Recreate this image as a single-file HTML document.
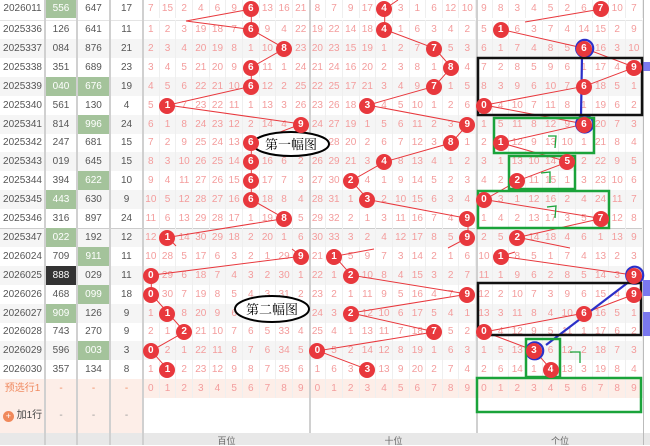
<!DOCTYPE html>
<html><head><meta charset="utf-8"><style>
*{margin:0;padding:0;box-sizing:border-box}
body{width:650px;height:445px;overflow:hidden;background:#fff;font-family:"Liberation Sans","Noto Sans CJK SC",sans-serif;position:relative}
.bg{position:absolute;left:0;width:643px;height:19px}
.L{position:absolute;left:0;width:143px;height:19px;display:flex;font-size:10px;color:#555;line-height:19px;text-align:center}
.L span{height:19px}
.L span:nth-child(1){width:45px}.L span:nth-child(2){width:32px}.L span:nth-child(3){width:33px}.L span:nth-child(4){width:33px}
.gr{background:#a4c39b;color:#fff}.dk{background:#333;color:#fff}
.g{position:absolute;left:143px;width:500px;height:19px;display:flex}
.g span{width:16.667px;text-align:center;font-size:10px;color:#f39c9c;line-height:19px;position:relative;border-right:1px solid #efefef}
.g b{position:absolute;left:50%;top:50%;width:16px;height:16px;margin:-8px 0 0 -8px;border-radius:50%;background:#e8383d;color:#fff;font-weight:bold;font-size:10px;line-height:16px;z-index:2;text-align:center}
.vl{position:absolute;top:0;width:2px;height:445px;background:#d0d0d0}
svg{position:absolute;left:0;top:0;z-index:1}
</style></head><body>
<div class="bg" style="top:39px;background:#f5f5f5"></div>
<div class="bg" style="top:77px;background:#f5f5f5"></div>
<div class="bg" style="top:115px;background:#f5f5f5"></div>
<div class="bg" style="top:152px;background:#f5f5f5"></div>
<div class="bg" style="top:190px;background:#f5f5f5"></div>
<div class="bg" style="top:228px;background:#f5f5f5"></div>
<div class="bg" style="top:266px;background:#f5f5f5"></div>
<div class="bg" style="top:304px;background:#f5f5f5"></div>
<div class="bg" style="top:341px;background:#f5f5f5"></div>
<div class="bg" style="top:379px;height:19px;background:#fdeee8"></div>
<div class="bg" style="top:398px;height:35px;width:143px;background:#fdeee8"></div>
<div class="bg" style="top:433px;height:12px;width:650px;background:#e8e8e8"></div>
<div style="position:absolute;left:0;top:228px;width:643px;height:1px;background:#ccc"></div>
<div style="position:absolute;left:0;top:20px;width:643px;height:1px;background:#e4e4e4"></div>

<div class="L" style="top:-1px"><span>2026011</span><span class="gr">556</span><span>647</span><span>17</span></div>
<div class="L" style="top:20px"><span>2025336</span><span>126</span><span>641</span><span>11</span></div>
<div class="L" style="top:39px"><span>2025337</span><span>084</span><span>876</span><span>21</span></div>
<div class="L" style="top:58px"><span>2025338</span><span>351</span><span>689</span><span>23</span></div>
<div class="L" style="top:77px"><span>2025339</span><span class="gr">040</span><span class="gr">676</span><span>19</span></div>
<div class="L" style="top:96px"><span>2025340</span><span>561</span><span>130</span><span>4</span></div>
<div class="L" style="top:115px"><span>2025341</span><span>814</span><span class="gr">996</span><span>24</span></div>
<div class="L" style="top:133px"><span>2025342</span><span>247</span><span>681</span><span>15</span></div>
<div class="L" style="top:152px"><span>2025343</span><span>019</span><span>645</span><span>15</span></div>
<div class="L" style="top:171px"><span>2025344</span><span>394</span><span class="gr">622</span><span>10</span></div>
<div class="L" style="top:190px"><span>2025345</span><span class="gr">443</span><span>630</span><span>9</span></div>
<div class="L" style="top:209px"><span>2025346</span><span>316</span><span>897</span><span>24</span></div>
<div class="L" style="top:228px"><span>2025347</span><span class="gr">022</span><span>192</span><span>12</span></div>
<div class="L" style="top:247px"><span>2026024</span><span>709</span><span class="gr">911</span><span>11</span></div>
<div class="L" style="top:266px"><span>2026025</span><span class="dk">888</span><span>029</span><span>11</span></div>
<div class="L" style="top:285px"><span>2026026</span><span>468</span><span class="gr">099</span><span>18</span></div>
<div class="L" style="top:304px"><span>2026027</span><span class="gr">909</span><span>126</span><span>9</span></div>
<div class="L" style="top:322px"><span>2026028</span><span>743</span><span>270</span><span>9</span></div>
<div class="L" style="top:341px"><span>2026029</span><span>596</span><span class="gr">003</span><span>3</span></div>
<div class="L" style="top:360px"><span>2026030</span><span>357</span><span>134</span><span>8</span></div>
<div class="L" style="top:379px;color:#f08a60"><span style="font-size:10px">预选行1</span><span>-</span><span>-</span><span>-</span></div>
<div class="L" style="top:406px;color:#444"><span><i style="display:inline-block;width:11px;height:11px;border-radius:50%;background:#f0885a;color:#fff;font-style:normal;font-size:9px;line-height:11px;vertical-align:-1px">+</i> 加1行</span><span style="color:#999">-</span><span style="color:#999">-</span><span style="color:#999">-</span></div>

<div class="g" style="top:-1px"><span>7</span><span>15</span><span>2</span><span>4</span><span>6</span><span>9</span><span><b>6</b></span><span>13</span><span>16</span><span>21</span><span>8</span><span>7</span><span>9</span><span>17</span><span><b>4</b></span><span>3</span><span>1</span><span>6</span><span>12</span><span>10</span><span>9</span><span>8</span><span>3</span><span>4</span><span>5</span><span>2</span><span>6</span><span><b>7</b></span><span>10</span><span>7</span></div>
<div class="g" style="top:20px"><span>1</span><span>2</span><span>3</span><span>19</span><span>18</span><span>7</span><span><b>6</b></span><span>9</span><span>4</span><span>22</span><span>19</span><span>22</span><span>14</span><span>18</span><span><b>4</b></span><span>1</span><span>6</span><span>3</span><span>4</span><span>2</span><span>5</span><span><b>1</b></span><span>6</span><span>3</span><span>7</span><span>4</span><span>14</span><span>15</span><span>2</span><span>9</span></div>
<div class="g" style="top:39px"><span>2</span><span>3</span><span>4</span><span>20</span><span>19</span><span>8</span><span>1</span><span>10</span><span><b>8</b></span><span>23</span><span>20</span><span>23</span><span>15</span><span>19</span><span>1</span><span>2</span><span>7</span><span><b>7</b></span><span>5</span><span>3</span><span>6</span><span>1</span><span>7</span><span>4</span><span>8</span><span>5</span><span><b>6</b></span><span>16</span><span>3</span><span>10</span></div>
<div class="g" style="top:58px"><span>3</span><span>4</span><span>5</span><span>21</span><span>20</span><span>9</span><span><b>6</b></span><span>11</span><span>1</span><span>24</span><span>21</span><span>24</span><span>16</span><span>20</span><span>2</span><span>3</span><span>8</span><span>1</span><span><b>8</b></span><span>4</span><span>7</span><span>2</span><span>8</span><span>5</span><span>9</span><span>6</span><span>1</span><span>17</span><span>4</span><span><b>9</b></span></div>
<div class="g" style="top:77px"><span>4</span><span>5</span><span>6</span><span>22</span><span>21</span><span>10</span><span><b>6</b></span><span>12</span><span>2</span><span>25</span><span>22</span><span>25</span><span>17</span><span>21</span><span>3</span><span>4</span><span>9</span><span><b>7</b></span><span>1</span><span>5</span><span>8</span><span>3</span><span>9</span><span>6</span><span>10</span><span>7</span><span><b>6</b></span><span>18</span><span>5</span><span>1</span></div>
<div class="g" style="top:96px"><span>5</span><span><b>1</b></span><span>7</span><span>23</span><span>22</span><span>11</span><span>1</span><span>13</span><span>3</span><span>26</span><span>23</span><span>26</span><span>18</span><span><b>3</b></span><span>4</span><span>5</span><span>10</span><span>1</span><span>2</span><span>6</span><span><b>0</b></span><span>4</span><span>10</span><span>7</span><span>11</span><span>8</span><span>1</span><span>19</span><span>6</span><span>2</span></div>
<div class="g" style="top:115px"><span>6</span><span>1</span><span>8</span><span>24</span><span>23</span><span>12</span><span>2</span><span>14</span><span>4</span><span><b>9</b></span><span>24</span><span>27</span><span>19</span><span>1</span><span>5</span><span>6</span><span>11</span><span>2</span><span>3</span><span><b>9</b></span><span>1</span><span>5</span><span>11</span><span>8</span><span>12</span><span>9</span><span><b>6</b></span><span>20</span><span>7</span><span>3</span></div>
<div class="g" style="top:133px"><span>7</span><span>2</span><span>9</span><span>25</span><span>24</span><span>13</span><span><b>6</b></span><span>15</span><span>5</span><span>1</span><span>25</span><span>28</span><span>20</span><span>2</span><span>6</span><span>7</span><span>12</span><span>3</span><span><b>8</b></span><span>1</span><span>2</span><span><b>1</b></span><span>12</span><span>9</span><span>13</span><span>10</span><span>1</span><span>21</span><span>8</span><span>4</span></div>
<div class="g" style="top:152px"><span>8</span><span>3</span><span>10</span><span>26</span><span>25</span><span>14</span><span><b>6</b></span><span>16</span><span>6</span><span>2</span><span>26</span><span>29</span><span>21</span><span>3</span><span><b>4</b></span><span>8</span><span>13</span><span>4</span><span>1</span><span>2</span><span>3</span><span>1</span><span>13</span><span>10</span><span>14</span><span><b>5</b></span><span>2</span><span>22</span><span>9</span><span>5</span></div>
<div class="g" style="top:171px"><span>9</span><span>4</span><span>11</span><span>27</span><span>26</span><span>15</span><span><b>6</b></span><span>17</span><span>7</span><span>3</span><span>27</span><span>30</span><span><b>2</b></span><span>4</span><span>1</span><span>9</span><span>14</span><span>5</span><span>2</span><span>3</span><span>4</span><span>2</span><span><b>2</b></span><span>11</span><span>15</span><span>1</span><span>3</span><span>23</span><span>10</span><span>6</span></div>
<div class="g" style="top:190px"><span>10</span><span>5</span><span>12</span><span>28</span><span>27</span><span>16</span><span><b>6</b></span><span>18</span><span>8</span><span>4</span><span>28</span><span>31</span><span>1</span><span><b>3</b></span><span>2</span><span>10</span><span>15</span><span>6</span><span>3</span><span>4</span><span><b>0</b></span><span>3</span><span>1</span><span>12</span><span>16</span><span>2</span><span>4</span><span>24</span><span>11</span><span>7</span></div>
<div class="g" style="top:209px"><span>11</span><span>6</span><span>13</span><span>29</span><span>28</span><span>17</span><span>1</span><span>19</span><span><b>8</b></span><span>5</span><span>29</span><span>32</span><span>2</span><span>1</span><span>3</span><span>11</span><span>16</span><span>7</span><span>4</span><span><b>9</b></span><span>1</span><span>4</span><span>2</span><span>13</span><span>17</span><span>3</span><span>5</span><span><b>7</b></span><span>12</span><span>8</span></div>
<div class="g" style="top:228px"><span>12</span><span><b>1</b></span><span>14</span><span>30</span><span>29</span><span>18</span><span>2</span><span>20</span><span>1</span><span>6</span><span>30</span><span>33</span><span>3</span><span>2</span><span>4</span><span>12</span><span>17</span><span>8</span><span>5</span><span><b>9</b></span><span>2</span><span>5</span><span><b>2</b></span><span>14</span><span>18</span><span>4</span><span>6</span><span>1</span><span>13</span><span>9</span></div>
<div class="g" style="top:247px"><span>10</span><span>28</span><span>5</span><span>17</span><span>6</span><span>3</span><span>2</span><span>1</span><span>29</span><span><b>9</b></span><span>21</span><span><b>1</b></span><span>5</span><span>9</span><span>7</span><span>3</span><span>14</span><span>2</span><span>1</span><span>6</span><span>10</span><span><b>1</b></span><span>8</span><span>5</span><span>1</span><span>7</span><span>4</span><span>13</span><span>2</span><span>3</span></div>
<div class="g" style="top:266px"><span><b>0</b></span><span>29</span><span>6</span><span>18</span><span>7</span><span>4</span><span>3</span><span>2</span><span>30</span><span>1</span><span>22</span><span>1</span><span><b>2</b></span><span>10</span><span>8</span><span>4</span><span>15</span><span>3</span><span>2</span><span>7</span><span>11</span><span>1</span><span>9</span><span>6</span><span>2</span><span>8</span><span>5</span><span>14</span><span>3</span><span><b>9</b></span></div>
<div class="g" style="top:285px"><span><b>0</b></span><span>30</span><span>7</span><span>19</span><span>8</span><span>5</span><span>4</span><span>3</span><span>31</span><span>2</span><span>23</span><span>2</span><span>1</span><span>11</span><span>9</span><span>5</span><span>16</span><span>4</span><span>7</span><span><b>9</b></span><span>12</span><span>2</span><span>10</span><span>7</span><span>3</span><span>9</span><span>6</span><span>15</span><span>4</span><span><b>9</b></span></div>
<div class="g" style="top:304px"><span>1</span><span><b>1</b></span><span>8</span><span>20</span><span>9</span><span>6</span><span>5</span><span>4</span><span>32</span><span>3</span><span>24</span><span>3</span><span><b>2</b></span><span>12</span><span>10</span><span>6</span><span>17</span><span>5</span><span>4</span><span>1</span><span>13</span><span>3</span><span>11</span><span>8</span><span>4</span><span>10</span><span><b>6</b></span><span>16</span><span>5</span><span>1</span></div>
<div class="g" style="top:322px"><span>2</span><span>1</span><span><b>2</b></span><span>21</span><span>10</span><span>7</span><span>6</span><span>5</span><span>33</span><span>4</span><span>25</span><span>4</span><span>1</span><span>13</span><span>11</span><span>7</span><span>18</span><span><b>7</b></span><span>5</span><span>2</span><span><b>0</b></span><span>4</span><span>12</span><span>9</span><span>5</span><span>11</span><span>1</span><span>17</span><span>6</span><span>2</span></div>
<div class="g" style="top:341px"><span><b>0</b></span><span>2</span><span>1</span><span>22</span><span>11</span><span>8</span><span>7</span><span>6</span><span>34</span><span>5</span><span><b>0</b></span><span>5</span><span>2</span><span>14</span><span>12</span><span>8</span><span>19</span><span>1</span><span>6</span><span>3</span><span>1</span><span>5</span><span>13</span><span><b>3</b></span><span>6</span><span>12</span><span>2</span><span>18</span><span>7</span><span>3</span></div>
<div class="g" style="top:360px"><span>1</span><span><b>1</b></span><span>2</span><span>23</span><span>12</span><span>9</span><span>8</span><span>7</span><span>35</span><span>6</span><span>1</span><span>6</span><span>3</span><span><b>3</b></span><span>13</span><span>9</span><span>20</span><span>2</span><span>7</span><span>4</span><span>2</span><span>6</span><span>14</span><span>1</span><span><b>4</b></span><span>13</span><span>3</span><span>19</span><span>8</span><span>4</span></div>
<div class="g" style="top:379px"><span>0</span><span>1</span><span>2</span><span>3</span><span>4</span><span>5</span><span>6</span><span>7</span><span>8</span><span>9</span><span>0</span><span>1</span><span>2</span><span>3</span><span>4</span><span>5</span><span>6</span><span>7</span><span>8</span><span>9</span><span>0</span><span>1</span><span>2</span><span>3</span><span>4</span><span>5</span><span>6</span><span>7</span><span>8</span><span>9</span></div>

<div class="vl" style="left:44px"></div><div class="vl" style="left:76px"></div><div class="vl" style="left:109px"></div><div class="vl" style="left:142px"></div>
<div class="vl" style="left:309px;height:433px"></div><div class="vl" style="left:476px;height:433px"></div><div class="vl" style="left:643px;width:1px;background:#bbb"></div>
<div style="position:absolute;left:643px;top:62px;width:7px;height:9px;background:#7a78ee"></div>
<div style="position:absolute;left:643px;top:280px;width:7px;height:16px;background:#7a78ee"></div>
<div style="position:absolute;left:643px;top:312px;width:7px;height:24px;background:#7a78ee"></div>

<div style="position:absolute;top:436px;left:143px;width:500px;display:flex;font-size:9px;color:#666;text-align:center;line-height:10px"><span style="width:167px">百位</span><span style="width:167px">十位</span><span style="width:166px">个位</span></div>

<svg width="650" height="445" viewBox="0 0 650 445">
<g fill="none" stroke="#e8383d" stroke-width="1">
<polyline points="251.3,9 251.3,29.5 284.7,48.4 251.3,67.3 251.3,86.2 168,105.1 301.3,124 251.3,142.9 251.3,161.8 251.3,180.7 251.3,199.6 284.7,218.5 168,237.4"/>
<polyline points="301.3,256.3 151.3,275.2 151.3,294.1 168,313 184.7,331.9 151.3,350.8 168,369.7"/>
<line x1="168" y1="237.4" x2="176" y2="246"/><line x1="301.3" y1="256.3" x2="292" y2="249"/>
<line x1="251.3" y1="9" x2="186" y2="21"/><line x1="251.3" y1="29.5" x2="186" y2="21"/>
<polyline points="384.7,9 384.7,29.5 434.7,48.4 451.3,67.3 434.7,86.2 368,105.1 468,124 451.3,142.9 384.7,161.8 351.3,180.7 368,199.6 468,218.5 468,237.4 448,248"/>
<polyline points="374,249 334.7,256.3 351.3,275.2 468,294.1 351.3,313 434.7,331.9 318,350.8 368,369.7"/>
<line x1="384.7" y1="9" x2="398" y2="0"/>
<polyline points="601.3,9 525,22"/>
<polyline points="501.3,29.5 584.7,48.4 634.7,67.3 584.7,86.2 484.7,105.1 584.7,124 501.3,142.9 568,161.8 518,180.7 484.7,199.6 601.3,218.5 518,237.4 570,248"/>
<polyline points="515,252 501.3,256.3 634.7,275.2"/>
<polyline points="634.7,294.1 584.7,313 484.7,331.9 534.7,350.8 551.3,369.7"/>
</g>
<g fill="none" stroke="#2a2fc8" stroke-width="2.2">
<circle cx="584.7" cy="48.4" r="8.5"/><circle cx="584.7" cy="124" r="8.5"/><circle cx="634.7" cy="275.2" r="8.5"/><circle cx="534.7" cy="350.8" r="8.5"/>
<line x1="582" y1="56" x2="581" y2="116"/>
<line x1="630" y1="281" x2="546" y2="345"/>
</g>
<g fill="none" stroke="#111" stroke-width="2.5">
<rect x="478" y="58" width="164" height="57"/>
<rect x="478" y="283" width="163" height="52"/>
</g>
<g fill="none" stroke="#1aa33a" stroke-width="2.5">
<rect x="494" y="118" width="100" height="35"/>
<rect x="509" y="156" width="66" height="33"/>
<rect x="478" y="191" width="131" height="37"/>
<rect x="526" y="339" width="34" height="38"/>
<rect x="477" y="378" width="164" height="34"/>
</g>
<g fill="none" stroke="#1aa33a" stroke-width="1.3">
<polyline points="548,136 556,136 555,148"/>
<polyline points="541,173 550,172 550,183"/>
<polyline points="547,207 556,206 555,218"/>
<polyline points="570,352 580,352 580,363"/>
</g>
<g>
<ellipse cx="291" cy="144" rx="38" ry="12" fill="#fff" stroke="#000" stroke-width="2"/>
<text x="291" y="149" font-size="13" text-anchor="middle" font-family="'Noto Serif CJK SC',serif" fill="#000">第一幅图</text>
<ellipse cx="272" cy="309" rx="37" ry="13" fill="#fff" stroke="#000" stroke-width="2"/>
<text x="272" y="314" font-size="13" text-anchor="middle" font-family="'Noto Serif CJK SC',serif" fill="#000">第二幅图</text>
</g>
</svg>
</body></html>
